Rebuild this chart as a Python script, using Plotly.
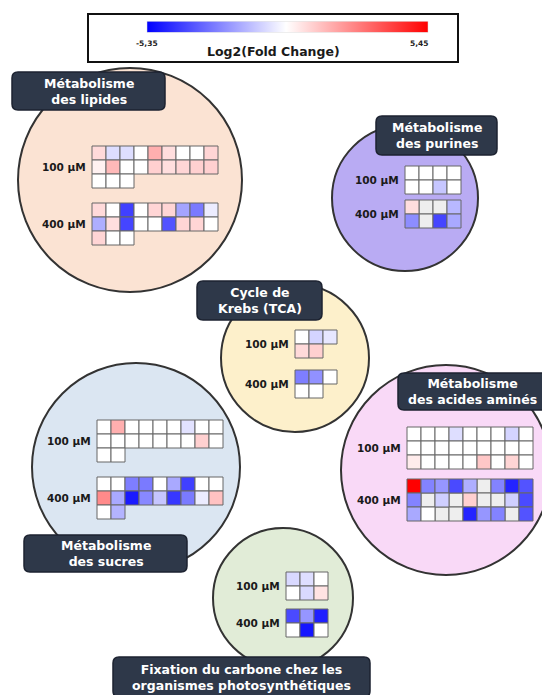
import plotly.graph_objects as go

lipides_100 = [[0.8, -0.7, -0.7, 0, 1.7, 0.7, 0, 0, 0.9],
               [0.3, 1.5, 0, 0, 1.0, 0.7, 0.9, 1.0, 1.0],
               [0, 0, 0]]
lipides_400 = [[0.8, 0, -4.0, 0, 0.9, 0.9, -1.9, -2.8, -0.4],
               [-1.7, 0.7, -3.9, 0, 0, -3.6, 0.9, 0.9, 0],
               [0.9, 0, 0]]
purines_100 = [[0, 0, 0, 0],
               [0, 0, -1.2, 0]]
purines_400 = [[0.7, None, None, -1.5],
               [-2.4, None, -3.9, -1.8]]
tca_100 = [[0, -0.9, -0.5],
           [0.8, 1.0]]
tca_400 = [[-2.7, -2.3, 0],
           [0, 0]]
sucres_100 = [[0, 1.7, 0, 0, 0, 0, -0.6, 0, 0],
              [0, 0, 0, 0, 0, 0, 0, 1.0, 0],
              [0, 0]]
sucres_400 = [[0, 0, -2.7, -2.8, 0, -1.8, -4.0, 0, 0],
              [2.5, -1.8, -4.8, -2.5, -1.2, -4.2, -2.8, -0.4, 1.3],
              [0, -1.6]]
amines_100 = [[0, 0, 0, -0.7, 0, 0, 0, -0.9, 0],
              [0, 0, 0, 0, 0, 0, 0, 0, 0],
              [0.4, 0, 0, 0, 0, 1.2, 0, 0.9, 0]]
amines_400 = [[5.45, -2.6, -2.2, -3.8, -1.7, None, -2.6, -4.6, -3.6],
              [-2.6, None, -1.0, None, 1.0, None, None, -1.0, -3.8],
              [-1.8, 0, None, None, -4.6, -2.2, -2.6, None, -3.6]]
carbone_100 = [[-0.8, -0.7, 0],
               [0, -0.8, 0.6]]
carbone_400 = [[-3.8, -2.2, -4.7],
               [0, -4.9, 0]]

vmin, vmax = -5.35, 5.45
bornes = ["-5,35", "5,45"]
concentrations = ["100 µM", "400 µM"]

# mise en page des groupes (pixels de la page)
groupes = [
    dict(titre="Métabolisme<br>des lipides", data=(lipides_100, lipides_400),
         cercle=(130, 180, 112), fond="#fbe3d3", boite=(12, 72, 165, 110),
         grilles=((92, 146), (92, 203))),
    dict(titre="Métabolisme<br>des purines", data=(purines_100, purines_400),
         cercle=(405, 198, 73), fond="#b9abf3", boite=(376, 116, 497, 155),
         grilles=((405, 166), (405, 200))),
    dict(titre="Cycle de<br>Krebs (TCA)", data=(tca_100, tca_400),
         cercle=(295, 358, 74), fond="#fdf0cb", boite=(197, 281, 322, 320),
         grilles=((295, 330), (295, 370))),
    dict(titre="Métabolisme<br>des acides aminés", data=(amines_100, amines_400),
         cercle=(446, 470, 105), fond="#f9d9f7", boite=(398, 373, 547, 410),
         grilles=((407, 427), (407, 479))),
    dict(titre="Métabolisme<br>des sucres", data=(sucres_100, sucres_400),
         cercle=(136, 467, 104), fond="#dbe6f2", boite=(24, 535, 187, 572),
         grilles=((97, 420), (97, 477))),
    dict(titre="Fixation du carbone chez les<br>organismes photosynthétiques",
         data=(carbone_100, carbone_400),
         cercle=(283, 598, 70), fond="#e1ecd7", boite=(113, 657, 370, 697),
         grilles=((286, 572), (286, 609))),
]

cell = 14
off = 8  # marge du <body> de la page html
W, H = 550 - off, 695 - off
police = "DejaVu Sans"
colorscale = [[0, "#0000ff"], [(0 - vmin) / (vmax - vmin), "#ffffff"], [1, "#ff0000"]]


def rounded(x0, y0, x1, y1, r=6):
    return (f"M{x0+r},{y0} L{x1-r},{y0} Q{x1},{y0} {x1},{y0+r} L{x1},{y1-r} "
            f"Q{x1},{y1} {x1-r},{y1} L{x0+r},{y1} Q{x0},{y1} {x0},{y1-r} "
            f"L{x0},{y0+r} Q{x0},{y0} {x0+r},{y0} Z")


fig = go.Figure()
shapes = []
annotations = []

xs, ys, vs = [], [], []
gx, gy = [], []

for g in groupes:
    cx, cy, r = g["cercle"]
    shapes.append(dict(type="circle", x0=cx - r, y0=cy - r, x1=cx + r, y1=cy + r,
                       fillcolor=g["fond"], line=dict(color="#333333", width=2),
                       layer="below"))
for g in groupes:
    bx0, by0, bx1, by1 = g["boite"]
    shapes.append(dict(type="path", path=rounded(bx0, by0, bx1, by1),
                       fillcolor="#2e3849", line=dict(color="#1c2230", width=1.5),
                       layer="below"))
    annotations.append(dict(x=(bx0 + bx1) / 2, y=(by0 + by1) / 2, text=f"<b>{g['titre']}</b>",
                            showarrow=False,
                            font=dict(family=police, size=12.5, color="white")))
    for conc, grid, (ox, oy) in zip(concentrations, g["data"], g["grilles"]):
        for i, row in enumerate(grid):
            for j, v in enumerate(row):
                x = ox + j * cell + cell / 2
                y = oy + i * cell + cell / 2
                if v is None:
                    gx.append(x)
                    gy.append(y)
                else:
                    xs.append(x)
                    ys.append(y)
                    vs.append(v)
        nrows = len(grid)
        annotations.append(dict(x=ox - 4, y=oy + nrows * cell / 2, text=f"<b>{conc}</b>",
                                xanchor="right", showarrow=False,
                                font=dict(family=police, size=10.5, color="#1a1a1a")))

fig.add_trace(go.Scatter(
    x=gx, y=gy, mode="markers", hoverinfo="skip",
    marker=dict(symbol="square", size=cell, color="#eeeeee",
                line=dict(color="#666666", width=1)),
))
fig.add_trace(go.Scatter(
    x=xs, y=ys, mode="markers",
    marker=dict(symbol="square", size=cell, color=vs, cmin=vmin, cmax=vmax,
                colorscale=colorscale, line=dict(color="#666666", width=1),
                showscale=True,
                colorbar=dict(orientation="h", x=(287 - off) / W, xanchor="center",
                              y=1 - (27 - off) / H, yanchor="middle",
                              len=281, lenmode="pixels", thickness=11,
                              xpad=0, ypad=0, outlinewidth=0.5, outlinecolor="#dddddd",
                              showticklabels=False, ticks="")),
))

# cadre de la légende et ses textes
shapes.append(dict(type="rect", x0=88, y0=14, x1=458, y1=62,
                   fillcolor="white", line=dict(color="#111111", width=2), layer="below"))
annotations.append(dict(x=273, y=51, text="<b>Log2(Fold Change)</b>", showarrow=False,
                        font=dict(family=police, size=12.5, color="#1a1a1a")))
for xb, txt in zip([147, 419], bornes):
    annotations.append(dict(x=xb, y=43, text=f"<b>{txt}</b>", showarrow=False,
                            font=dict(family=police, size=7.5, color="#222222")))

fig.update_layout(
    width=W, height=H,
    margin=dict(l=0, r=0, t=0, b=0, autoexpand=False),
    paper_bgcolor="white", plot_bgcolor="white",
    showlegend=False,
    shapes=shapes, annotations=annotations,
    xaxis=dict(range=[off, 550], visible=False, fixedrange=True),
    yaxis=dict(range=[695, off], visible=False, fixedrange=True),
)

fig.write_html("out.html")
